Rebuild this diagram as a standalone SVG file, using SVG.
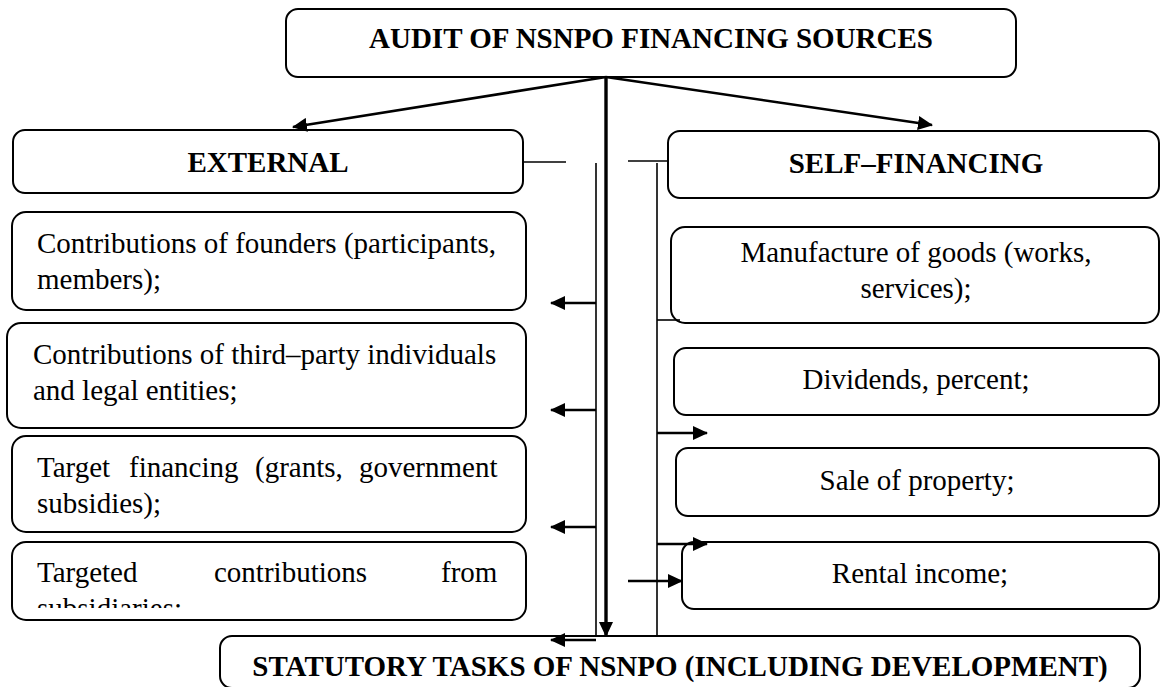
<svg xmlns="http://www.w3.org/2000/svg" width="1161" height="687" viewBox="0 0 1161 687">
<style>
.box{fill:#fff;stroke:#000;stroke-width:2}
.hd{font-family:"Liberation Serif","Times New Roman",serif;font-weight:bold;font-size:29px;fill:#000}
.tx{font-family:"Liberation Serif","Times New Roman",serif;font-size:29px;fill:#000}
.c{text-anchor:middle}
.thin{stroke:#000;stroke-width:1.6;fill:none}
.arr{stroke:#000;stroke-width:2.6;fill:none;marker-end:url(#ah)}
.thick{stroke:#000;stroke-width:3.4;fill:none;marker-end:url(#ah)}
</style>
<defs>
<marker id="ah" viewBox="0 0 15 14" refX="14" refY="7" markerWidth="15" markerHeight="14" markerUnits="userSpaceOnUse" orient="auto">
<path d="M0,0 L15,7 L0,14 z" fill="#000"/>
</marker>
<clipPath id="clip4"><rect x="12" y="542" width="514" height="66"/></clipPath>
</defs>

<g id="n-top">
<rect class="box" x="286" y="9" width="730" height="68" rx="12"/>
<text class="hd c" x="651" y="48">AUDIT OF NSNPO FINANCING SOURCES</text>
</g>

<g id="n-external">
<rect class="box" x="13" y="130" width="510" height="63" rx="12"/>
<text class="hd c" x="268" y="172">EXTERNAL</text>
</g>

<g id="n-self">
<rect class="box" x="668" y="131" width="491" height="67" rx="12"/>
<text class="hd c" x="916" y="173">SELF–FINANCING</text>
</g>

<g id="n-founders">
<rect class="box" x="12" y="212" width="514" height="98" rx="14"/>
<text class="tx" x="37" y="253">Contributions of founders (participants,</text>
<text class="tx" x="37" y="289">members);</text>
</g>

<g id="n-thirdparty">
<rect class="box" x="7" y="323" width="519" height="105" rx="14"/>
<text class="tx" x="33" y="364">Contributions of third–party individuals</text>
<text class="tx" x="33" y="400">and legal entities;</text>
</g>

<g id="n-target">
<rect class="box" x="12" y="436" width="514" height="96" rx="14"/>
<text class="tx" y="477"><tspan x="37">Target</tspan><tspan x="129">financing</tspan><tspan x="255">(grants,</tspan><tspan x="359">government</tspan></text>
<text class="tx" x="37" y="513">subsidies);</text>
</g>

<g id="n-targeted">
<rect class="box" x="12" y="542" width="514" height="78" rx="14"/>
<text class="tx" y="582"><tspan x="37">Targeted</tspan><tspan x="214">contributions</tspan><tspan x="441">from</tspan></text>
<text class="tx" x="37" y="618" clip-path="url(#clip4)">subsidiaries;</text>
</g>

<g id="n-manufacture">
<rect class="box" x="671" y="227" width="488" height="96" rx="14"/>
<text class="tx c" x="916" y="262">Manufacture of goods (works,</text>
<text class="tx c" x="916" y="298">services);</text>
</g>

<g id="n-dividends">
<rect class="box" x="674" y="348" width="485" height="67" rx="12"/>
<text class="tx c" x="916" y="389">Dividends, percent;</text>
</g>

<g id="n-sale">
<rect class="box" x="676" y="448" width="483" height="68" rx="12"/>
<text class="tx c" x="917" y="490">Sale of property;</text>
</g>

<g id="n-rental">
<rect class="box" x="682" y="542" width="477" height="67" rx="12"/>
<text class="tx c" x="920" y="583">Rental income;</text>
</g>

<g id="n-statutory">
<rect class="box" x="220" y="636" width="920" height="52" rx="12"/>
<text class="hd c" x="680" y="676">STATUTORY TASKS OF NSNPO (INCLUDING DEVELOPMENT)</text>
</g>

<g id="connectors">
<line class="arr" x1="606" y1="77" x2="293" y2="127"/>
<line class="arr" x1="606" y1="77" x2="932" y2="125"/>
<line class="thick" x1="606" y1="77" x2="606" y2="636"/>
<line class="thin" x1="523" y1="162" x2="566" y2="162"/>
<line class="thin" x1="596" y1="163" x2="596" y2="636"/>
<line class="thin" x1="628" y1="161" x2="667" y2="161"/>
<line class="thin" x1="657" y1="163" x2="657" y2="636"/>
<line class="thin" x1="657" y1="320" x2="680" y2="320"/>
<line class="arr" x1="596" y1="303" x2="551" y2="303"/>
<line class="arr" x1="596" y1="410" x2="551" y2="410"/>
<line class="arr" x1="596" y1="527" x2="551" y2="527"/>
<line class="arr" x1="596" y1="640" x2="551" y2="640"/>
<line class="arr" x1="657" y1="433" x2="707" y2="433"/>
<line class="arr" x1="657" y1="544" x2="707" y2="544"/>
<line class="arr" x1="628" y1="581" x2="682" y2="581"/>
</g>
</svg>
